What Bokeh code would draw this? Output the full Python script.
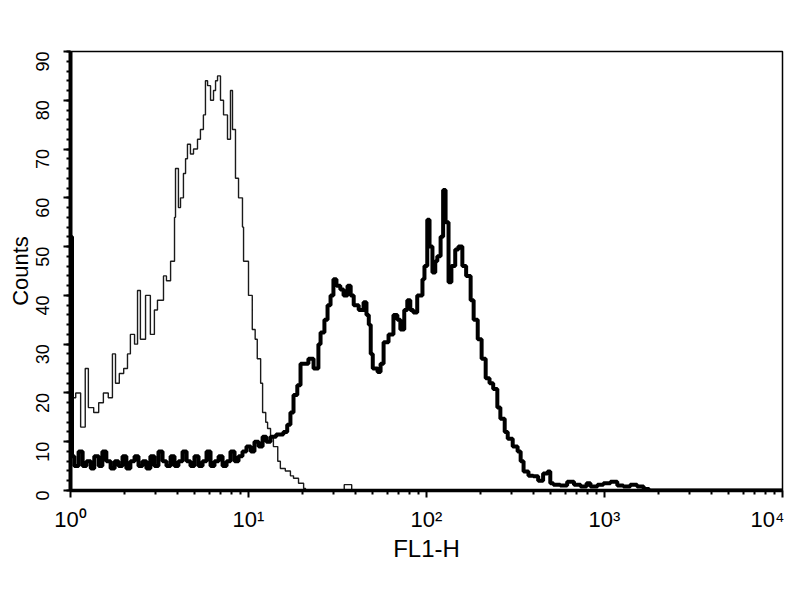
import math
from bokeh.plotting import figure
from bokeh.models import Range1d, FixedTicker, SingleIntervalTicker
from bokeh.embed import file_html
from bokeh.resources import INLINE

# control (thin) histogram, FL1-H values and counts
ctrl_fl1 = [1.00, 1.07, 1.14, 1.21, 1.26, 1.35, 1.44, 1.53, 1.63, 1.72,
            1.79, 1.88, 1.99, 2.09, 2.17, 2.29, 2.38, 2.47, 2.64, 2.81,
            2.96, 3.08, 3.33, 3.46, 3.65, 3.84, 3.89, 4.04, 4.15, 4.31,
            4.43, 4.54, 4.72, 4.91, 5.17, 5.37, 5.58, 5.73, 5.89, 6.12,
            6.36, 6.53, 6.70, 6.96, 7.24, 7.62, 7.92, 8.13, 8.45, 8.79,
            9.25, 9.38, 9.62, 10.0, 10.5, 10.9, 11.2, 11.7, 12.0, 12.5,
            12.8, 13.3, 13.8, 14.6, 15.1, 16.1, 17.2, 17.9, 19.1, 20.4,
            20.9, 34.5, 38.0, 10000]
ctrl_counts = [19, 20, 13, 25, 17, 16, 18, 20, 19, 28,
               22, 24, 25, 28, 32, 30, 41, 31, 40, 32,
               37, 39, 44, 43, 47, 56, 66, 58, 60, 65,
               68, 71, 69, 70, 72, 74, 77, 84, 83, 80,
               82, 84, 85, 80, 77, 72, 82, 74, 64, 60,
               54, 47, 47, 40, 33, 31, 27, 22, 16, 14,
               12.7, 11, 9, 6, 4.5, 4, 3, 2.5, 1.5, 0.4,
               0, 1.2, 0, 0]

# stained (thick) histogram
stain_fl1 = [1.00, 1.02, 1.05, 1.11, 1.17, 1.23, 1.30, 1.36, 1.44, 1.51,
             1.59, 1.68, 1.77, 1.86, 1.96, 2.06, 2.17, 2.29, 2.41, 2.54,
             2.67, 2.81, 2.96, 3.12, 3.29, 3.46, 3.65, 3.84, 4.04, 4.26,
             4.49, 4.72, 4.97, 5.24, 5.52, 5.81, 6.12, 6.44, 6.79, 7.15,
             7.53, 7.92, 8.35, 8.79, 9.25, 9.74, 10.3, 10.8, 11.4, 12.0,
             12.6, 13.3, 14.3, 15.7, 16.5, 17.2, 17.9, 18.8, 19.6, 20.4,
             21.7, 23.2, 24.7, 25.4, 26.7, 27.8, 28.9, 30.0, 31.2, 32.8,
             34.2, 36.0, 37.5, 39.0, 41.6, 44.3, 46.0, 47.4, 48.6, 49.9,
             53.1, 55.2, 57.4, 61.2, 65.2, 68.6, 71.3, 75.0, 78.0, 81.1,
             84.3, 88.7, 94.9, 97.4, 101, 104, 108, 112, 115, 120,
             124, 128, 133, 138, 145, 151, 159, 167, 177, 184,
             194, 204, 215, 226, 237, 250, 260, 275, 286, 305,
             325, 338, 351, 374, 398, 424, 452, 479, 496, 516,
             564, 617, 674, 734, 793, 834, 913, 986, 1080, 1180,
             1276, 1395, 1524, 1660, 1780, 10000]
stain_counts = [52, 7, 5, 8, 5, 6, 4.5, 7, 5, 8,
                6, 4.5, 6, 5, 7, 4.5, 6, 7, 5, 6,
                4.5, 7, 5, 8, 6, 5, 7, 5, 6, 8,
                6, 5, 7, 5, 6, 8, 5, 6, 7, 5,
                6, 8, 6, 7, 8, 9, 8, 10, 9, 11,
                10, 11, 11.5, 12, 13.5, 16, 19.6, 21.6, 26, 26,
                27, 25, 30, 32.4, 35, 38, 40, 43.3, 42, 41.2,
                40, 42, 40, 38, 37, 38.6, 36, 34, 28, 25,
                24.3, 26, 30.4, 32, 36, 35, 33, 37, 39, 37,
                36.5, 40, 43.3, 46, 55.5, 50, 44.7, 47, 48, 52,
                61.6, 55, 42.7, 46, 49.4, 50, 46, 44, 39, 35,
                31, 27, 23, 22, 20.8, 17, 14.7, 12, 10.6, 9,
                8, 6, 3.9, 3, 2.9, 2, 3.5, 3.9, 1.5, 1.2,
                1, 1.8, 1.2, 0.8, 1.5, 0.8, 1.2, 1.5, 1.8, 1,
                0.8, 1.2, 0.8, 0.3, 0, 0]

decades = [1, 10, 100, 1000, 10000]
decade_labels = ["10⁰", "10¹", "10²", "10³", "10⁴"]
font = "Liberation Sans"

p = figure(width=784, height=584, x_axis_type="log",
           x_range=Range1d(1, 10000), y_range=Range1d(0, 90),
           output_backend="svg", toolbar_location=None,
           min_border_left=70, min_border_right=2,
           min_border_top=51, min_border_bottom=94)
p.grid.visible = False
p.outline_line_color = "black"
p.outline_line_width = 1.5

p.step(ctrl_fl1, ctrl_counts, mode="after", line_color="#1a1a1a", line_width=1.4)
p.step(stain_fl1, stain_counts, mode="after", line_color="black", line_width=4)

xa = p.xaxis[0]
xa.ticker = FixedTicker(ticks=decades,
                        minor_ticks=[m * d for d in decades[:-1] for m in range(2, 10)])
xa.major_label_overrides = dict(zip(decades, decade_labels))
xa.axis_label = "FL1-H"
xa.axis_line_width = 3.5
xa.major_tick_in = 0
xa.major_tick_out = 7
xa.minor_tick_in = 0
xa.minor_tick_out = 4
xa.major_tick_line_width = 2
xa.minor_tick_line_width = 2
xa.major_label_standoff = 9
xa.major_label_text_font = font
xa.major_label_text_font_size = "22px"
xa.major_label_text_color = "black"
xa.axis_label_text_font = font
xa.axis_label_text_font_size = "24px"
xa.axis_label_text_font_style = "normal"
xa.axis_label_text_color = "black"
xa.axis_label_standoff = 0

ya = p.yaxis[0]
ya.ticker = SingleIntervalTicker(interval=10, num_minor_ticks=5)
ya.axis_label = "Counts"
ya.axis_line_width = 4
ya.major_tick_in = 0
ya.major_tick_out = 7
ya.minor_tick_in = 0
ya.minor_tick_out = 4
ya.major_tick_line_width = 2
ya.minor_tick_line_width = 2
ya.major_label_orientation = math.pi / 2
ya.major_label_standoff = 21
ya.major_label_text_font = font
ya.major_label_text_font_size = "18px"
ya.major_label_text_color = "black"
ya.axis_label_text_font = font
ya.axis_label_text_font_size = "22px"
ya.axis_label_text_font_style = "normal"
ya.axis_label_text_color = "black"
ya.axis_label_standoff = -6

open("out.html", "w").write(file_html(p, INLINE))
